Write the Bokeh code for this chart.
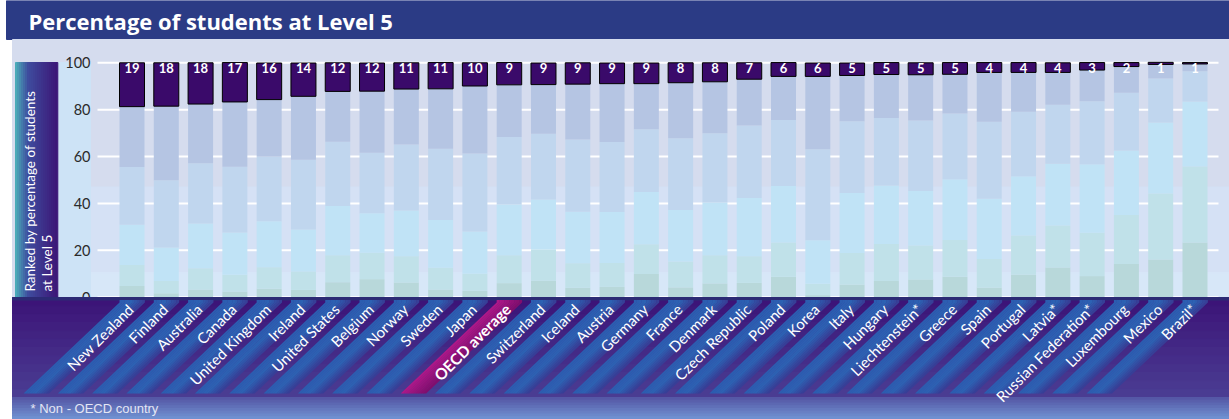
import numpy as np
from bokeh.plotting import figure
from bokeh.models import Range1d
from bokeh.core.properties import value
from bokeh.embed import file_html
from bokeh.resources import INLINE

# ---------------- data ----------------
countries = ["New Zealand", "Finland", "Australia", "Canada", "United Kingdom", "Ireland",
             "United States", "Belgium", "Norway", "Sweden", "Japan", "OECD average",
             "Switzerland", "Iceland", "Austria", "Germany", "France", "Denmark",
             "Czech Republic", "Poland", "Korea", "Italy", "Hungary", "Liechtenstein*",
             "Greece", "Spain", "Portugal", "Latvia*", "Russian Federation*", "Luxembourg",
             "Mexico", "Brazil*"]
below_level1 = [4.8, 1.7, 3.3, 2.4, 3.6, 3.1, 6.4, 7.7, 6.3, 3.3, 2.7, 6.0, 7.0, 4.0, 4.4, 9.9,
                4.2, 5.9, 6.1, 8.7, 0.9, 5.4, 6.9, 7.6, 8.7, 4.1, 9.6, 12.7, 9.0, 14.2, 16.1, 23.3]
level1 = [8.9, 5.2, 9.1, 7.2, 9.2, 7.9, 11.5, 11.3, 11.2, 9.3, 7.3, 11.9, 13.3, 10.5, 10.2, 12.7,
          11.0, 12.0, 11.4, 14.6, 4.8, 13.5, 15.8, 14.5, 15.7, 12.2, 16.7, 17.9, 18.5, 20.9, 28.1, 32.5]
level2 = [17.2, 14.3, 19.0, 18.0, 19.6, 17.9, 21.0, 16.8, 19.5, 20.3, 18.0, 21.7, 21.4, 22.0, 21.7, 22.3,
          22.0, 22.5, 24.8, 24.1, 18.6, 25.6, 25.0, 23.2, 25.9, 25.7, 25.3, 26.3, 29.2, 27.5, 30.3, 27.7]
level3 = [24.6, 28.7, 25.7, 28.0, 27.5, 29.7, 27.4, 25.8, 28.1, 30.4, 33.3, 28.7, 28.0, 30.8, 29.9, 26.8,
          30.6, 29.5, 30.9, 28.2, 38.8, 30.6, 28.8, 30.1, 28.1, 32.8, 27.5, 25.2, 26.9, 24.6, 18.8, 12.9]
level4 = [25.8, 31.6, 25.3, 27.7, 24.4, 27.1, 21.5, 26.3, 23.7, 25.6, 28.8, 22.3, 21.0, 23.6, 24.9, 19.4,
          23.7, 22.0, 19.8, 18.6, 31.1, 19.5, 18.5, 19.5, 16.7, 21.1, 16.8, 13.8, 13.3, 11.2, 6.0, 3.1]
level5 = [18.7, 18.5, 17.6, 16.8, 15.6, 14.2, 12.2, 12.0, 11.2, 11.2, 9.9, 9.5, 9.2, 9.1, 8.8, 8.8,
          8.5, 8.1, 7.0, 5.9, 5.7, 5.3, 5.1, 5.1, 5.0, 4.2, 4.2, 4.1, 3.2, 1.7, 0.9, 0.6]
level5_labels = ["19", "18", "18", "17", "16", "14", "12", "12", "11", "11", "10", "9", "9", "9", "9", "9",
                 "8", "8", "7", "6", "6", "5", "5", "5", "5", "4", "4", "4", "3", "2", "1", "1"]
y_ticks = [0, 20, 40, 60, 80, 100]
title_text = "Percentage of students at Level 5"
y_title_lines = ["Ranked by percentage of students", "at Level 5"]
footnote = "* Non - OECD country"

seg_colors = ["#b8d8da", "#c0e1e9", "#c0e3f6", "#c0d6ee", "#b5c5e3"]
l5_color = "#3a0a6a"

# ---------------- geometry helpers (page pixels -> data) ----------------
W, H = 1229, 419
X0PX, DXPX = 131.5, 34.29
Y0PX, DYPX = 296.7, 2.344


def X(px):
    return (px - X0PX) / DXPX


def Y(py):
    return (Y0PX - py) / DYPX


def hexmix(c1, c2, t):
    a = [int(c1[i:i + 2], 16) for i in (1, 3, 5)]
    b = [int(c2[i:i + 2], 16) for i in (1, 3, 5)]
    return "#%02x%02x%02x" % tuple(int(round(a[k] + (b[k] - a[k]) * t)) for k in range(3))


p = figure(width=W, height=H, x_range=Range1d(X(0), X(W)), y_range=Range1d(Y(H), Y(0)),
           output_backend="svg", toolbar_location=None, min_border=0,
           x_axis_location=None, y_axis_location=None)
p.grid.visible = False
p.outline_line_color = None
p.background_fill_color = "white"
p.border_fill_color = "white"

# title bar
p.quad(left=X(6), right=X(W), top=Y(0), bottom=Y(39), color="#2b3b85")
p.text(x=[X(28)], y=[Y(20)], text=[title_text], text_font=value("Open Sans"), text_font_style="bold",
       text_font_size="22px", text_color="white", text_align="left", text_baseline="middle")

# plot background and bands
p.quad(left=X(12), right=X(W), top=Y(39), bottom=0, color="#d5dcee")
p.quad(left=X(90), right=X(W), top=47, bottom=10.5, color="#d5e1f5")
p.quad(left=X(90), right=X(W), top=10.5, bottom=0, color="#d7e7f8")
p.quad(left=X(57), right=X(90), top=Y(62), bottom=0, color="#cde3f6")

# left title panel gradient
n = 21
edges = np.linspace(15, 57, n + 1)
for k in range(n):
    t = k / (n - 1)
    if t < 0.3:
        c = hexmix("#4aaab8", "#3e4c9e", t / 0.3)
    else:
        c = hexmix("#3e4c9e", "#3c1878", (t - 0.3) / 0.7)
    p.quad(left=X(edges[k]), right=X(edges[k + 1] + 0.3), top=Y(62), bottom=0, color=c)
p.text(x=[X(29), X(46)], y=[Y(291), Y(291)], text=y_title_lines, angle=np.pi / 2,
       text_font=value("Lato"), text_font_size="13.5px", text_color="white",
       text_align="left", text_baseline="middle")

# y tick labels and gridlines
p.text(x=[X(90)] * len(y_ticks), y=y_ticks, text=[str(t) for t in y_ticks],
       text_font=value("Lato"), text_font_size="14.5px", text_color="#2a2a2a",
       text_align="right", text_baseline="middle")
p.segment(x0=[X(97)] * len(y_ticks), x1=[X(1218)] * len(y_ticks), y0=y_ticks, y1=y_ticks,
          line_color="white", line_width=2)

# stacked bars
idx = np.arange(len(countries))
bw = 25 / DXPX
layers = [below_level1, level1, level2, level3, level4]
bottom = np.zeros(len(countries))
for vals, col in zip(layers, seg_colors):
    top = bottom + np.array(vals)
    p.vbar(x=idx, width=bw, bottom=bottom, top=top, fill_color=col, line_color=None)
    bottom = top
top5 = bottom + np.array(level5)
p.vbar(x=idx, width=bw, bottom=bottom, top=top5, fill_color=l5_color, line_color="black", line_width=1)
p.text(x=idx, y=[97.6] * len(idx), text=level5_labels, text_font=value("Lato"), text_font_style="bold",
       text_font_size="13px", text_color="white", text_align="center", text_baseline="middle")

# bottom panel
nb = 12
ys = np.linspace(297, 397, nb + 1)
for k in range(nb):
    c = hexmix("#3c1478", "#4a3c92", k / (nb - 1))
    p.quad(left=X(12), right=X(W), top=Y(ys[k]), bottom=Y(ys[k + 1] + 0.3), color=c)
p.quad(left=X(12), right=X(W), top=Y(297), bottom=Y(299.5), color="#2c2a74")
nf = 8
ys = np.linspace(397, 419, nf + 1)
for k in range(nf):
    c = hexmix("#5558a6", "#6f90d0", k / (nf - 1))
    p.quad(left=X(12), right=X(W), top=Y(ys[k]), bottom=Y(ys[k + 1] + 0.3), color=c)
p.text(x=[X(30)], y=[Y(408)], text=[footnote], text_font=value("Liberation Sans"),
       text_font_size="13px", text_color="#e4e6f4", text_align="left", text_baseline="middle")

# diagonal stripes (smooth left-to-right shading)
hw = 12.5
neck, ybot, shift = 302, 393, 96
nparts = 10
fr = np.linspace(0, 1, nparts + 1)


def stripe_col(t, magenta):
    if magenta:
        return hexmix("#b0188a", "#7e0e6c", t)
    if t < 0.45:
        return hexmix("#2c5cb0", "#2d62b3", t / 0.45)
    return hexmix("#2d62b3", "#383c94", (t - 0.45) / 0.55)


for part in range(nparts):
    xs, ys_, cols = [], [], []
    tmid = (fr[part] + fr[part + 1]) / 2
    for i in idx:
        cx = X0PX + DXPX * i
        a = cx - hw + 2 * hw * fr[part]
        b = cx - hw + 2 * hw * fr[part + 1] + 0.4
        xs.append([X(a), X(b), X(b), X(b - shift), X(a - shift), X(a)])
        ys_.append([Y(299.5), Y(299.5), Y(neck), Y(ybot), Y(ybot), Y(neck)])
        cols.append(stripe_col(tmid, countries[i] == "OECD average"))
    p.patches(xs=xs, ys=ys_, fill_color=cols, line_color=None)

# country labels along stripes
ya = 306
lab_x = [X(X0PX + DXPX * i - (ya - neck) * shift / (ybot - neck) + 3) for i in idx]
normal = [i for i in idx if countries[i] != "OECD average"]
special = [i for i in idx if countries[i] == "OECD average"]
p.text(x=[lab_x[i] for i in normal], y=[Y(ya)] * len(normal), text=[countries[i] for i in normal],
       angle=np.pi / 4, text_font=value("Lato"), text_font_size="15px", text_color="white",
       text_align="right", text_baseline="middle")
p.text(x=[lab_x[i] for i in special], y=[Y(ya)] * len(special), text=[countries[i] for i in special],
       angle=np.pi / 4, text_font=value("Lato"), text_font_style="bold", text_font_size="15.5px",
       text_color="white", text_align="right", text_baseline="middle")

open("out.html", "w").write(file_html(p, INLINE))
